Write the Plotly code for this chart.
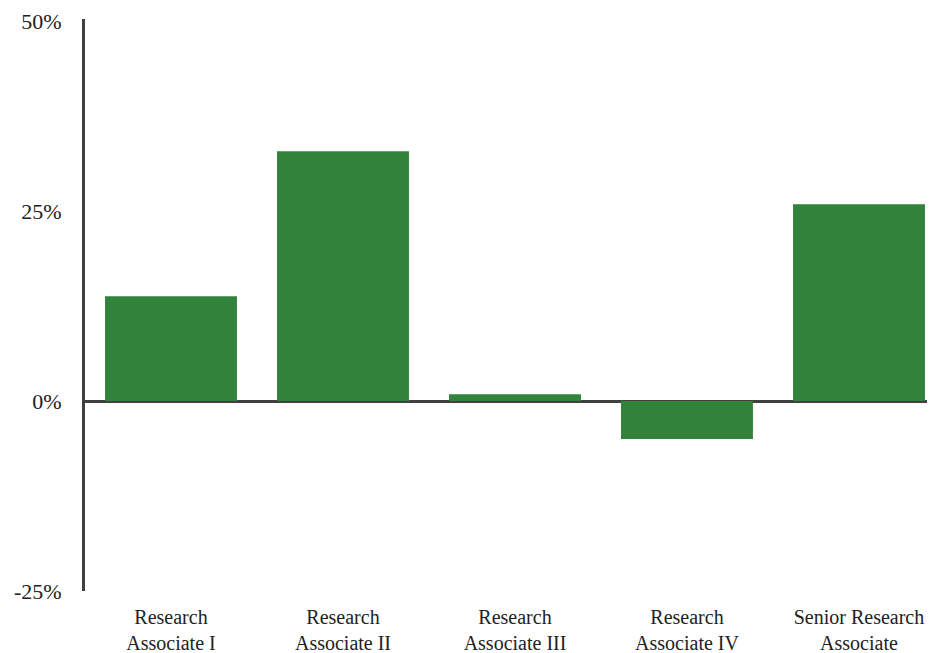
import plotly.graph_objects as go

categories = ["Research<br>Associate I", "Research<br>Associate II", "Research<br>Associate III",
              "Research<br>Associate IV", "Senior Research<br>Associate"]
values = [13.8, 32.9, 0.9, -5.0, 25.9]
y_tickvals = [-25, 0, 25, 50]
y_ticktext = ["-25%", "0%", "25%", "50%"]

fig = go.Figure(go.Bar(
    x=list(range(len(categories))), y=values,
    marker=dict(color="#31833B", line=dict(width=0)),
    hoverinfo="skip",
))

font = dict(family="Liberation Serif, Times New Roman, serif", color="#222222")

fig.update_layout(
    width=935, height=653,
    margin=dict(l=77, r=8, t=11, b=70, autoexpand=False),
    plot_bgcolor="white", paper_bgcolor="white",
    bargap=0.233,
    showlegend=False,
    font=font,
)
fig.update_xaxes(
    tickmode="array", tickvals=list(range(len(categories))), ticktext=categories,
    range=[-0.5, 4.442], showgrid=False, zeroline=False, showline=False,
    ticks="", tickfont=dict(size=20, family=font["family"], color="#222222"),
    ticklabelstandoff=12, automargin=False,
)
fig.update_yaxes(
    range=[-25, 50.3], tickvals=y_tickvals, ticktext=y_ticktext,
    showgrid=False, zeroline=True, zerolinecolor="#404040", zerolinewidth=3,
    showline=True, linecolor="#404040", linewidth=3,
    ticks="", tickfont=dict(size=22, family=font["family"], color="#222222"),
    ticklabelstandoff=16, automargin=False,
)

fig.write_html("out.html")
